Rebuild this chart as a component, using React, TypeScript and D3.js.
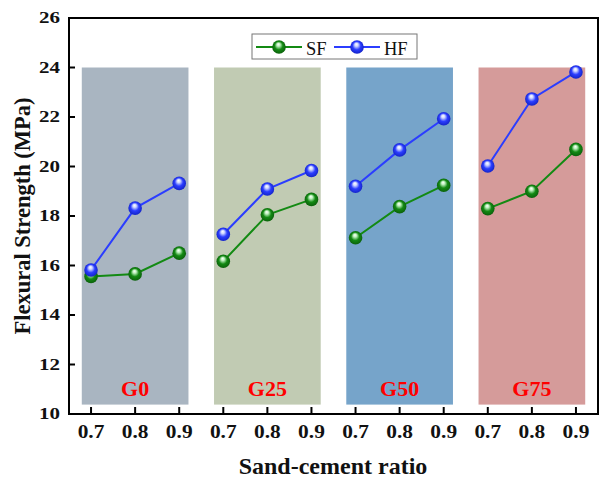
import React from "react"
import * as d3 from "d3"

const groups = ["G0", "G25", "G50", "G75"]
const ratios = ["0.7", "0.8", "0.9"]
const sfValues = [
  [15.56, 15.66, 16.5],
  [16.17, 18.05, 18.67],
  [17.12, 18.38, 19.24],
  [18.3, 19.0, 20.69],
]
const hfValues = [
  [15.82, 18.32, 19.32],
  [17.26, 19.09, 19.84],
  [19.2, 20.67, 21.93],
  [20.02, 22.73, 23.82],
]
const yTicks = [10, 12, 14, 16, 18, 20, 22, 24, 26]
const groupColors = ["#a9b5c1", "#c1cbb3", "#76a4ca", "#d59b9a"]
const boxTop = 24
const boxBottom = 10.38

const W = 608
const H = 488
const M = { top: 18, right: 10, bottom: 74, left: 69 }
const FONT = "'Liberation Serif', 'Times New Roman', serif"

const series = [
  { name: "SF", values: sfValues, color: "#138a13", light: "#bff0bf", dark: "#0a5a0a" },
  { name: "HF", values: hfValues, color: "#2b3dff", light: "#d0d8ff", dark: "#1020c0" },
]

// text squeezed a bit wider, like the source figure's tick labels
function WideText({ x, y, sx, anchor, size, children }: any) {
  return (
    <text
      transform={`translate(${x},${y}) scale(${sx},1)`}
      textAnchor={anchor}
      fontFamily={FONT}
      fontWeight="bold"
      fontSize={size}
      fill="#111"
    >
      {children}
    </text>
  )
}

export default function App() {
  const innerR = W - M.right
  const innerB = H - M.bottom

  const slots = groups.flatMap((g) => ratios.map((r) => `${g}-${r}`))
  const x = d3.scaleBand().domain(slots).range([M.left, innerR])
  const cx = (g: string, r: string) => (x(`${g}-${r}`) ?? 0) + x.bandwidth() / 2
  const y = d3.scaleLinear().domain([10, 26]).range([innerB, M.top])
  const step = x.step()

  const line = d3
    .line<[number, number]>()
    .x((d) => d[0])
    .y((d) => y(d[1]))

  return (
    <svg width={W} height={H} style={{ position: "absolute", left: 0, top: 0, background: "#fff" }}>
      <defs>
        {series.map((s) => (
          <radialGradient key={s.name} id={`ball-${s.name}`} cx="0.5" cy="0.5" r="0.55" fx="0.45" fy="0.28">
            <stop offset="0" stopColor="#ffffff" />
            <stop offset="0.22" stopColor={s.light} />
            <stop offset="0.55" stopColor={s.color} />
            <stop offset="1" stopColor={s.dark} />
          </radialGradient>
        ))}
      </defs>

      {/* group background boxes */}
      {groups.map((g, i) => {
        const x0 = cx(g, ratios[0]) - 0.21 * step
        const x1 = cx(g, ratios[ratios.length - 1]) + 0.21 * step
        return (
          <rect
            key={g}
            x={x0}
            y={y(boxTop)}
            width={x1 - x0}
            height={y(boxBottom) - y(boxTop)}
            fill={groupColors[i]}
          />
        )
      })}

      {/* group labels */}
      {groups.map((g) => (
        <text
          key={g}
          x={cx(g, ratios[1])}
          y={396}
          textAnchor="middle"
          fill="#ff0000"
          fontFamily={FONT}
          fontWeight="bold"
          fontSize={22}
        >
          {g}
        </text>
      ))}

      {/* lines and markers */}
      {series.map((s) => (
        <g key={s.name}>
          {groups.map((g, gi) => {
            const pts = ratios.map((r, ri) => [cx(g, r), s.values[gi][ri]] as [number, number])
            return (
              <g key={g}>
                <path d={line(pts) ?? ""} fill="none" stroke={s.color} strokeWidth={2} />
                {pts.map((p, k) => (
                  <circle key={k} cx={p[0]} cy={y(p[1])} r={6.8} fill={`url(#ball-${s.name})`} />
                ))}
              </g>
            )
          })}
        </g>
      ))}

      {/* frame */}
      <rect
        x={M.left}
        y={M.top}
        width={innerR - M.left}
        height={innerB - M.top}
        fill="none"
        stroke="#000"
        strokeWidth={2}
      />

      {/* y axis ticks */}
      {yTicks.map((t) => (
        <g key={t}>
          <line x1={M.left} x2={M.left + 6} y1={y(t)} y2={y(t)} stroke="#000" strokeWidth={2} />
          <WideText x={60} y={y(t) + 5} sx={1.2} anchor="end" size={17.5}>
            {t}
          </WideText>
        </g>
      ))}

      {/* x axis ticks */}
      {groups.flatMap((g) =>
        ratios.map((r) => (
          <g key={`${g}-${r}`}>
            <line x1={cx(g, r)} x2={cx(g, r)} y1={innerB} y2={innerB - 7} stroke="#000" strokeWidth={2} />
            <WideText x={cx(g, r)} y={438} sx={1.17} anchor="middle" size={18.3}>
              {r}
            </WideText>
          </g>
        ))
      )}

      {/* axis titles */}
      <text
        x={333}
        y={474}
        textAnchor="middle"
        fontFamily={FONT}
        fontWeight="bold"
        fontSize={24}
        fill="#111"
      >
        Sand-cement ratio
      </text>
      <text
        transform={`translate(30,${(M.top + innerB) / 2}) rotate(-90)`}
        textAnchor="middle"
        fontFamily={FONT}
        fontWeight="bold"
        fontSize={22.5}
        fill="#111"
      >
        Flexural Strength (MPa)
      </text>

      {/* legend */}
      <g>
        <rect x={252} y={34} width={165} height={25} fill="#fff" stroke="#777" strokeWidth={1} />
        {series.map((s, i) => {
          const lx = i === 0 ? 256 : 334
          return (
            <g key={s.name}>
              <line x1={lx} x2={lx + 46} y1={47} y2={47} stroke={s.color} strokeWidth={2} />
              <circle cx={lx + 23} cy={47} r={6.8} fill={`url(#ball-${s.name})`} />
              <text x={lx + 50} y={55} fontFamily={FONT} fontSize={18.5} fill="#111">
                {s.name}
              </text>
            </g>
          )
        })}
      </g>
    </svg>
  )
}
